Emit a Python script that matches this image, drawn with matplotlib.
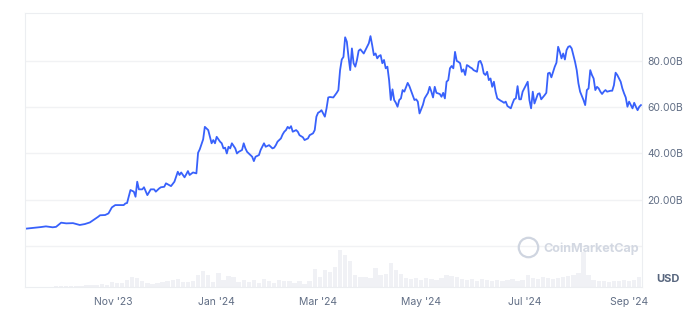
import numpy as np
import pandas as pd
import matplotlib
matplotlib.use("Agg")
import matplotlib.pyplot as plt

plt.rcParams['font.family'] = ['Inter', 'DejaVu Sans']

# market cap (days after 2023-09-10, billions USD)
start = pd.Timestamp("2023-09-10")
cap_days = [0, 9, 12, 16, 18, 21, 24, 28, 32, 35, 38, 40, 43, 44, 47, 49, 51, 53, 56, 58,
            59, 60, 62, 64, 65, 66, 67, 69, 70, 72, 74, 76, 77, 79, 80, 82, 83, 85, 86, 88,
            90, 91, 92, 94, 95, 96, 97, 99, 101, 102, 103, 105, 106, 108, 109, 110, 111, 112, 113, 115,
            116, 117, 118, 119, 120, 121, 122, 124, 125, 126, 128, 129, 130, 131, 132, 134, 135, 136, 138, 139,
            140, 141, 142, 144, 145, 146, 147, 148, 149, 151, 152, 153, 154, 155, 156, 157, 158, 160, 161, 162,
            164, 165, 167, 168, 170, 171, 172, 173, 174, 175, 177, 178, 179, 180, 182, 184, 185, 186, 187, 188,
            189, 190, 191, 192, 193, 194, 195, 196, 197, 198, 200, 201, 202, 203, 204, 205, 206, 207, 208, 209,
            210, 211, 212, 213, 214, 215, 216, 217, 218, 219, 220, 221, 222, 223, 224, 226, 227, 228, 229, 230,
            231, 232, 233, 235, 236, 237, 238, 239, 240, 241, 242, 243, 245, 246, 247, 248, 249, 250, 251, 252,
            253, 254, 255, 256, 257, 258, 259, 260, 261, 262, 263, 264, 265, 267, 268, 269, 270, 271, 272, 273,
            274, 275, 276, 277, 278, 279, 281, 282, 283, 284, 285, 287, 288, 289, 290, 291, 292, 293, 294, 295,
            297, 298, 299, 300, 301, 303, 304, 305, 307, 308, 309, 310, 311, 313, 314, 315, 316, 317, 318, 319,
            320, 321, 322, 323, 324, 325, 326, 327, 328, 330, 331, 332, 333, 334, 335, 336, 337, 338, 339, 340,
            341, 342, 343, 344, 346, 347, 348, 349, 350, 352, 353, 354, 355, 356, 357, 359, 360, 361, 362, 363,
            364]
cap = [7.5, 8.2, 8.5, 8.1, 8.3, 10.1, 9.8, 9.9, 9.1, 9.5, 10.2, 11.2, 12.7, 13.3, 13.4, 14.1, 16.7, 17.7, 17.7, 17.7,
       18.4, 18.6, 24.2, 23.5, 21.3, 27.8, 24.5, 24.5, 25.4, 22.0, 24.5, 24.5, 23.5, 24.9, 25.4, 25.6, 27.1, 26.3, 25.9, 27.8,
       32.1, 30.7, 31.8, 29.7, 31.0, 32.4, 30.7, 31.8, 31.4, 40.3, 41.8, 46.1, 51.5, 50.1, 47.2, 44.4, 45.8, 44.4, 47.2, 45.1,
       44.4, 42.2, 42.5, 40.0, 42.9, 42.2, 44.4, 42.2, 40.0, 40.7, 41.5, 44.4, 42.2, 40.7, 40.0, 38.6, 36.7, 38.6, 39.3, 41.5,
       42.9, 44.4, 42.9, 43.6, 42.9, 42.2, 42.5, 43.6, 45.1, 46.5, 48.2, 49.4, 50.1, 51.5, 50.8, 51.8, 49.4, 50.1, 49.4, 47.9,
       47.0, 45.8, 46.5, 47.9, 48.7, 50.1, 55.9, 57.6, 58.0, 58.7, 55.9, 59.5, 64.2, 64.4, 64.2, 66.2, 67.4, 76.0, 80.6, 81.7,
       90.2, 88.3, 81.7, 76.0, 85.4, 79.0, 77.5, 80.4, 84.4, 85.0, 83.2, 84.7, 86.1, 87.6, 90.7, 86.8, 82.5, 83.2, 81.1, 82.1,
       82.5, 79.0, 80.4, 76.8, 77.5, 71.7, 63.1, 67.7, 63.1, 61.9, 60.2, 63.1, 63.8, 67.4, 66.7, 70.5, 69.1, 67.1, 65.2, 63.1,
       63.4, 62.4, 57.3, 61.0, 63.8, 65.0, 66.2, 68.8, 66.7, 64.2, 68.8, 66.2, 65.7, 64.5, 66.2, 63.8, 71.0, 71.7, 76.8, 77.8,
       76.8, 83.9, 80.0, 79.6, 79.0, 75.3, 76.3, 73.9, 78.2, 77.8, 77.2, 76.8, 76.0, 75.3, 79.6, 80.0, 78.2, 74.6, 73.9, 75.3,
       71.7, 72.4, 68.8, 71.0, 66.7, 63.8, 62.8, 62.4, 61.9, 62.4, 60.5, 59.5, 61.6, 63.4, 63.8, 69.1, 63.4, 63.4, 66.7, 68.1,
       71.0, 63.1, 59.5, 66.7, 61.6, 65.7, 66.0, 63.4, 65.2, 66.2, 74.6, 74.9, 72.9, 77.5, 79.2, 86.1, 83.9, 81.1, 83.2, 80.6,
       84.7, 86.1, 86.4, 85.4, 82.5, 79.6, 76.0, 70.3, 66.7, 63.1, 60.9, 67.4, 68.1, 76.0, 73.9, 72.4, 67.4, 68.8, 68.1, 66.7,
       65.7, 66.7, 67.4, 66.7, 67.1, 67.1, 69.5, 74.9, 73.9, 71.0, 68.1, 66.0, 64.2, 60.2, 62.4, 59.5, 61.9, 60.2, 58.7, 60.2,
       60.9]

# volume, one reading every 3 days (billions USD)
vol_step = 3
vol = [0.08, 0.08, 0.08, 0.1, 0.1, 0.12, 0.15, 0.25, 0.15, 0.15,
       0.2, 0.3, 0.45, 0.38, 0.62, 0.75, 0.62, 1.25, 1.0, 0.88,
       1.75, 2.5, 2.25, 1.5, 1.0, 0.75, 1.0, 1.25, 1.5, 1.75,
       2.0, 1.25, 1.25, 1.5, 3.0, 4.0, 3.0, 1.25, 3.5, 1.75,
       2.75, 2.5, 1.25, 1.75, 1.25, 1.75, 1.0, 2.0, 1.5, 1.0,
       1.75, 1.5, 1.5, 1.0, 1.5, 0.75, 1.5, 4.5, 2.5, 4.25,
       3.75, 5.0, 9.25, 8.0, 6.5, 3.0, 2.5, 2.5, 2.25, 4.75,
       3.0, 3.25, 6.0, 4.25, 3.25, 2.25, 2.0, 2.25, 1.75, 2.25,
       2.0, 1.75, 2.25, 3.0, 2.75, 2.5, 2.0, 1.75, 2.0, 1.5,
       2.0, 1.75, 1.5, 1.75, 1.5, 1.75, 2.0, 1.5, 1.75, 3.0,
       2.25, 2.0, 2.5, 2.25, 2.0, 2.25, 2.5, 2.75, 3.0, 3.5,
       8.75, 3.0, 1.75, 1.5, 1.5, 1.25, 1.5, 1.5, 1.75, 1.5,
       1.75, 2.5]

y_ticks = [0, 20, 40, 60, 80]
y_labels = ["", "20.00B", "40.00B", "60.00B", "80.00B"]
x_ticks = ["2023-11-01", "2024-01-01", "2024-03-01", "2024-05-01", "2024-07-01", "2024-09-01"]
x_labels = ["Nov '23", "Jan '24", "Mar '24", "May '24", "Jul '24", "Sep '24"]

cap_dates = start + pd.to_timedelta(cap_days, unit="D")
vol_dates = start + pd.to_timedelta(np.arange(len(vol)) * vol_step, unit="D")

fig = plt.figure(figsize=(6.9, 3.2), dpi=100)
ax = fig.add_axes([0.0362, 0.1031, 0.8942, 0.8563])
ax2 = ax.twinx()

# volume bars behind the line
ax2.bar(vol_dates, vol, width=2.6, color="#f0f1f5", align="center")
ax2.set_ylim(0, 68.5)
ax2.set_yticks([])
for s in ax2.spines.values():
    s.set_visible(False)

ax.set_zorder(ax2.get_zorder() + 1)
ax.patch.set_visible(False)

ax.plot(cap_dates, cap, color="#3861fb", lw=1.3, solid_joinstyle="round")

ax.set_ylim(-17.7, 100.7)
ax.set_xlim(start - pd.Timedelta(days=0.4), start + pd.Timedelta(days=364.6))

ax.yaxis.tick_right()
ax.set_yticks(y_ticks)
ax.set_yticklabels(y_labels)
ax.set_xticks(pd.to_datetime(x_ticks))
ax.set_xticklabels(x_labels)
ax.tick_params(axis="both", length=0, labelsize=7.5, colors="#616e85")
ax.tick_params(axis="y", pad=4)
ax.tick_params(axis="x", pad=7)
ax.grid(axis="y", color="#f1f2f4", lw=1)
for s in ax.spines.values():
    s.set_color("#eceef1")
    s.set_linewidth(0.8)

ax.text(1.023, 0.03, "USD", transform=ax.transAxes, fontsize=8, fontweight="bold",
        color="#58667e", ha="left", va="center")

# watermark
ax.plot([0.815], [0.145], marker="o", ms=14, mfc="none", mec="#cfd5e0", mew=1.6,
        transform=ax.transAxes)
ax.text(0.8395, 0.141, "CoinMarketCap", transform=ax.transAxes, fontsize=9,
        fontweight="bold", color="#d3d8e2", ha="left", va="center")

fig.savefig("out.png", dpi=100, facecolor="white")
